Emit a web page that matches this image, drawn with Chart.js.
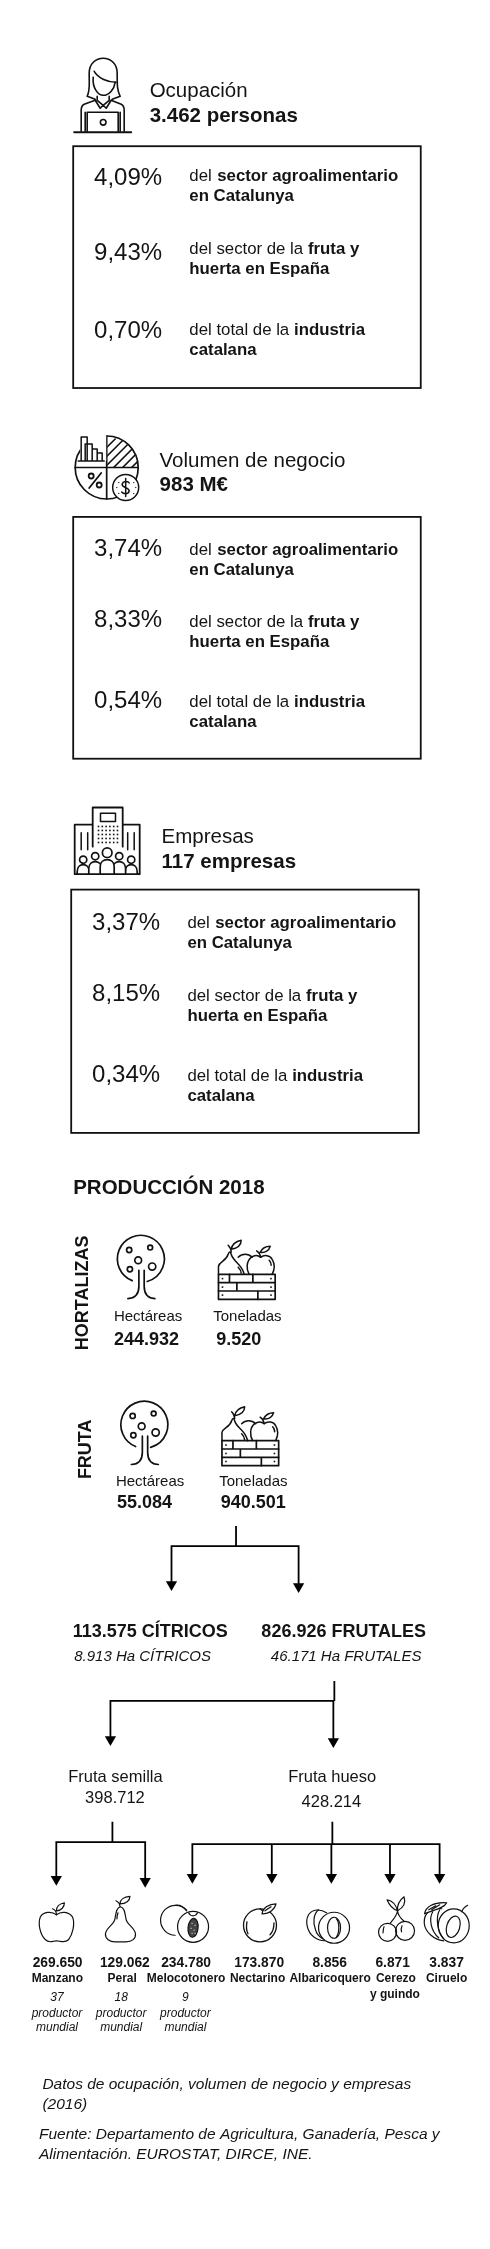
<!DOCTYPE html>
<html lang="es">
<head>
<meta charset="utf-8">
<title>Producción de fruta</title>
<style>
html,body{margin:0;padding:0;background:#fff}
canvas{display:block}
</style>
<script src="https://cdn.jsdelivr.net/npm/chart.js@4"></script>
</head>
<body>
<canvas id="c" width="490" height="2249"></canvas>
<script>
/* ---------- DATA ---------- */
const panelTitles = ['Ocupación', 'Volumen de negocio', 'Empresas'];
const panelTotals = ['3.462 personas', '983 M€', '117 empresas'];
const occupationShares = ['4,09%', '9,43%', '0,70%'];
const turnoverShares = ['3,74%', '8,33%', '0,54%'];
const companyShares = ['3,37%', '8,15%', '0,34%'];
const shareDescriptions = [
  [[['del ', false], ['sector agroalimentario', true]], [['en Catalunya', true]]],
  [[['del sector de la ', false], ['fruta y', true]], [['huerta en España', true]]],
  [[['del total de la ', false], ['industria', true]], [['catalana', true]]]
];
const productionTitle = 'PRODUCCIÓN 2018';
const productionGroups = ['HORTALIZAS', 'FRUTA'];
const productionUnits = ['Hectáreas', 'Toneladas'];
const vegetableValues = ['244.932', '9.520'];
const fruitValues = ['55.084', '940.501'];
const splitTotals = ['113.575 CÍTRICOS', '826.926 FRUTALES'];
const splitAreas = ['8.913 Ha CÍTRICOS', '46.171 Ha FRUTALES'];
const branchNames = ['Fruta semilla', 'Fruta hueso'];
const branchValues = ['398.712', '428.214'];
const speciesValues = ['269.650', '129.062', '234.780', '173.870', '8.856', '6.871', '3.837'];
const speciesNames = ['Manzano', 'Peral', 'Melocotonero', 'Nectarino', 'Albaricoquero', 'Cerezo', 'Ciruelo'];
const speciesRanks = ['37', '18', '9'];
const rankCaption = ['productor', 'mundial'];
const footnotes = [
  'Datos de ocupación, volumen de negocio y empresas', '(2016)',
  'Fuente: Departamento de Agricultura, Ganadería, Pesca y', 'Alimentación. EUROSTAT, DIRCE, INE.'
];

/* ---------- LAYOUT (frame of the two hidden axes) ---------- */
const FRAME_X = [4.84, 485.2], FRAME_Y = [6.17, 2244];
const INK = '#111', TEXT = '#141414';
const FAMILY = '"Liberation Sans", Arial, Helvetica, sans-serif';
const panelLayout = [
  {icon: 'person', ix: 73, iy: 58, tx: 149, ty: 97, vy: 122, box: [72, 146, 422, 388], sx: 93, dx: 189, sy: [185, 260, 338], dy: [181, 253.5, 334.5]},
  {icon: 'pie', ix: 73, iy: 435, tx: 159, ty: 467, vy: 491.5, box: [72, 517, 422, 759], sx: 93, dx: 189, sy: [556, 627.5, 708], dy: [554.7, 626.7, 707.7]},
  {icon: 'building', ix: 72, iy: 807, tx: 161, ty: 843, vy: 868, box: [70, 890, 420, 1133.5], sx: 91, dx: 187, sy: [930, 1001.5, 1082.5], dy: [928.7, 1001, 1082]}
];
const connectorPaths = [
  [[236, 1527], [236, 1547]],
  [[171, 1586], [171, 1547], [299, 1547], [299, 1588]],
  [[335, 1682], [335, 1702]],
  [[109.5, 1741], [109.5, 1702], [334, 1702], [334, 1743]],
  [[111.5, 1823], [111.5, 1843.3]],
  [[55, 1881], [55, 1843.3], [144.5, 1843.3], [144.5, 1883]],
  [[333, 1823], [333, 1845.3]],
  [[192, 1879], [192, 1845.3], [441, 1845.3], [441, 1879]],
  [[272, 1845.3], [272, 1879]],
  [[332, 1845.3], [332, 1879]],
  [[391, 1845.3], [391, 1879]]
];
const ARROW_R = 6.5;
const arrowTips = [[171, 1592], [299, 1594], [109.5, 1747], [334, 1749], [55, 1887], [144.5, 1889],
  [192, 1885], [272, 1885], [332, 1885], [391, 1885], [441, 1885]];
const speciesIcons = [['apple', 37, 1903], ['pear', 104, 1897], ['peach', 162, 1905], ['nectarine', 243, 1904],
  ['apricot', 307, 1909], ['cherry', 379, 1898], ['plum', 425, 1902]];
const speciesValueX = [56.3, 124, 185.7, 259.3, 330.3, 393.7, 448];
const speciesNameX = [56, 121.3, 185.7, 257.7, 330.7, 397, 448];
const rankX = [55.7, 120.3, 185];

/* ---------- ICONS (local px, origin at icon's top-left) ---------- */
function el(c, x, y, rx, ry, rot) { c.beginPath(); c.ellipse(x, y, rx, ry || rx, rot || 0, 0, Math.PI * 2); c.stroke(); }
function pth(c, d) { c.stroke(new Path2D(d)); }
const icons = {
  person(c) {
    c.lineWidth = 1.6;
    pth(c, 'M13 38C16 32 15 28 15 15C15 5 22 0 29 0C36 0 43 5 43 15C43 28 43 32 46 38L38 41M13 38L21 41');
    pth(c, 'M20 13C24 20 34 24 42 24');
    pth(c, 'M19 19C18 30 24 37 29 37C35 37 40 31 41 24');
    pth(c, 'M23 38V42L29 47L35 42V38M21 42L26 50L29 47L32 50L37 42');
    pth(c, 'M21 42L10 46C8 47 7 49 7 52V73M37 42L47 46C49 47 50 49 50 52V73');
    pth(c, 'M11 54V73M46 54V73');
    pth(c, 'M13 73V54H44V73');
    el(c, 29, 64, 2.8);
    c.lineWidth = 2; pth(c, 'M0 74H57');
  },
  pie(c) {
    c.lineWidth = 1.7;
    el(c, 32.5, 32.5, 31.5);
    pth(c, 'M1 32.5H64M32.5 1V64');
    c.save(); c.beginPath(); c.rect(33, 1, 31, 31); c.clip();
    const circ = new Path2D(); circ.arc(32.5, 32.5, 31, 0, Math.PI * 2); c.clip(circ);
    c.lineWidth = 1.6;
    for (const o of [8, 17, 26, 35, 44, 53]) pth(c, `M${33 + o - 30} 34L${33 + o} 4`);
    c.restore();
    c.fillStyle = '#fff'; c.fillRect(6, 0, 26, 26);
    c.lineWidth = 1.5;
    pth(c, 'M4 26H30M7 26V2H13V26M11 26V9H18V26M18 14H23V26M23 18H28V26');
    c.lineWidth = 1.8;
    el(c, 17, 41, 2.5); el(c, 25, 50, 2.5);
    pth(c, 'M27 38L15 53');
    c.lineWidth = 1.5;
    c.fillStyle = '#fff'; c.beginPath(); c.arc(51.5, 52.5, 13, 0, Math.PI * 2); c.fill(); c.stroke();
    pth(c, 'M55 48C54 46 49 46 48 49C47 53 55 52 55 56C54 60 49 59 47.5 57M51.5 43.5V61.5');
    c.fillStyle = INK;
    for (const [x, y] of [[42, 52], [61, 52], [44, 47], [59, 47], [44, 58], [59, 58]]) c.fillRect(x, y, 1.1, 1.1);
  },
  building(c) {
    c.lineWidth = 1.8;
    pth(c, 'M19.5 18H1.5V67.5H66.5V18H49.5M19.5 40V.8H49.5V40');
    c.lineWidth = 1.5;
    c.strokeRect(27.3, 6.5, 15, 8.2);
    pth(c, 'M8 26V43M14.5 26V43M54.5 26V43M61 26V43');
    c.fillStyle = INK;
    for (let r = 0; r < 5; r++) for (let k = 0; k < 6; k++) c.fillRect(24.5 + k * 3.8, 19 + r * 4, 1.6, 1.6);
    const person = (cx, hy, hr, w, top) => {
      c.fillStyle = '#fff';
      const p = new Path2D(`M${cx - w} 67.5V${top + 7}C${cx - w} ${top + 2} ${cx - w / 2} ${top} ${cx} ${top}C${cx + w / 2} ${top} ${cx + w} ${top + 2} ${cx + w} ${top + 7}V67.5`);
      c.fill(p); c.stroke(p);
      c.beginPath(); c.arc(cx, hy, hr, 0, Math.PI * 2); c.fill(); c.stroke();
    };
    c.lineWidth = 1.7;
    person(10, 53, 3.6, 6, 58); person(58, 53, 3.6, 6, 58);
    person(22, 49.5, 3.6, 6.4, 55); person(46, 49.5, 3.6, 6.4, 55);
    person(34, 46, 4.8, 7, 53);
    c.lineWidth = 1.8; pth(c, 'M3.5 67.5H65');
  },
  tree(c) {
    c.lineWidth = 1.7;
    c.beginPath(); c.arc(24, 23.5, 23.5, 1.95, 1.3); c.stroke();
    pth(c, 'M22 35V51C22 59 18 63 11 63.3M27.3 35V51C27.3 59 31 63 38 63.3');
    el(c, 12.3, 14.7, 2.6); el(c, 33.3, 12.3, 2.4); el(c, 21.3, 25, 3.4); el(c, 13, 34, 2.6); el(c, 35.3, 31.3, 3.6);
  },
  crate(c) {
    c.lineWidth = 1.7;
    c.strokeRect(1.3, 35, 56.7, 25);
    pth(c, 'M1.3 43.3H58M1.3 51.7H58M12.3 35V43.3M35.7 35V43.3M19.7 43.3V51.7M40.7 51.7V60');
    c.fillStyle = INK;
    for (const [x, y] of [[4.5, 38.5], [53, 38.5], [4.5, 47], [53, 47], [4.5, 55], [53, 55]]) c.fillRect(x, y, 1.6, 1.6);
    c.lineWidth = 1.5;
    pth(c, 'M1.3 35V27C2 22 9 22 11 15C12 12 13 12 14 15C16 22 23 24 26 32L27 35');
    pth(c, 'M21 28C23 30 24 32 24 34M14 13C14 10 13 8 11 6M14 10C15 5 19 2 24 1C24 6 20 9 14 10');
    pth(c, 'M21 18C25 14 31 14 35 18');
    pth(c, 'M32 35C29 30 29 22 34 18C37 16 41 16 43.5 18C47 15 53 16 55 20C58 25 57 31 55 35');
    pth(c, 'M43.5 18C43 15 42 13 39.5 11.5M43 13C45 9 49 7 53 7C52 11 48 14 43 13');
    pth(c, 'M52 21C53 22 54 23 54 26');
  },
  apple(c) {
    c.lineWidth = 1.2;
    pth(c, 'M18 13C13 9 5 10 2 15C-1 22 2 33 7 38C10 41 13 40 15 39.5C17 39 19 39 21 39.5C24 40 27 41 30 38C34 33 37 22 34 15C30 10 23 9 18 13Z');
    pth(c, 'M18 13C18 10 17 8 14 7M18 9C18 5 21 2 26 1C26 5 23 9 18 9');
  },
  pear(c) {
    c.lineWidth = 1.2;
    pth(c, 'M15.5 11C11 12 11 18 10 23C9 29 1 32 .5 38C0 43 5 46 10 46H21C27 46 31 43 30.5 38C30 32 22 29 21 23C20 18 20 12 15.5 11Z');
    pth(c, 'M15 11C15 8 13 6 11 5M15 8C15 4 19 1 25 .5C25 5 21 8 15 8M13 17C12 20 12 22 12 23');
  },
  peach(c) {
    c.lineWidth = 1.2;
    c.beginPath(); c.arc(13, 16.5, 15, 1.6, 5.55); c.stroke();
    pth(c, 'M13 1.5C17 1 21 3 24 7');
    el(c, 30.5, 23, 15.5);
    pth(c, 'M26 9C28 13 33 13 35 9');
    c.fillStyle = '#444'; c.beginPath(); c.ellipse(30.5, 24, 5, 9.5, .1, 0, Math.PI * 2); c.fill(); c.stroke();
    c.fillStyle = '#fff';
    for (const [x, y] of [[29, 19], [32, 21], [28, 24], [31, 26], [29, 29], [32, 29]]) c.fillRect(x, y, 1, 1);
  },
  nectarine(c) {
    c.lineWidth = 1.3;
    el(c, 17, 22.5, 16.5);
    pth(c, 'M17 6C20 9 23 9 26 7M4 19C3 24 4 29 5 31M31 20C31 25 29 30 27 32');
    c.fillStyle = '#fff';
    const p = new Path2D('M19 11C20 5 26 1 33 1C32 6 27 11 19 11Z'); c.fill(p); c.stroke(p);
    pth(c, 'M22 8L28 4');
  },
  apricot(c) {
    c.lineWidth = 1.2;
    pth(c, 'M20 5C14 1 6 1 2 7C-2 14 1 24 7 29C11 32 15 33 18 33');
    pth(c, 'M12 2C7 6 6 15 9 22C10 26 13 29 16 31');
    el(c, 27.5, 20, 15.5);
    el(c, 27.5, 20, 6.5, 10.5);
    pth(c, 'M30 11C33 15 33 25 30 29');
  },
  cherry(c) {
    c.lineWidth = 1.2;
    el(c, 9.5, 35.5, 9); el(c, 27, 34, 9.5);
    pth(c, 'M6 30C5 32 5 34 5 36M24 29C23 31 23 33 23.5 35');
    pth(c, 'M19.5 14C19 19 15 23 12 26.5M19.5 14C20 19 23 22 26 24.5');
    pth(c, 'M19.5 14C14 12 11 8 9 3C14 4 18 8 19.5 14M19.5 14C19 8 22 3 26 0C28 6 25 11 19.5 14');
  },
  plum(c) {
    c.lineWidth = 1.2;
    pth(c, 'M18 8C8 6 0 12 .5 22C1 31 10 39 20 40');
    pth(c, 'M9 11C5 18 7 30 15 37M16 9C12 16 13 30 20 38');
    el(c, 30, 25, 15.5, 17);
    el(c, 29.5, 26, 6.5, 11, .3);
    pth(c, 'M38 11C39 8 41 6 44 4.5');
    c.fillStyle = '#fff';
    const p = new Path2D('M.8 13C2 6 10 1 23 2C20 8 10 9 .8 13Z'); c.fill(p); c.stroke(p);
    pth(c, 'M5 9L12 5M8 9L16 4');
  }
};

/* ---------- PLUGIN: texts, boxes and icons positioned through the scales ---------- */
const infographic = {
  id: 'infographic',
  afterDatasetsDraw(chart) {
    const c = chart.ctx, X = chart.scales.x, Y = chart.scales.y;
    const px = v => X.getPixelForValue(v), py = v => Y.getPixelForValue(v);
    const put = (s, x, y, font, align) => {
      c.font = font + ' ' + FAMILY; c.textAlign = align || 'left'; c.textBaseline = 'alphabetic';
      c.fillStyle = TEXT; c.fillText(s, px(x), py(y));
    };
    const icon = (name, x, y) => {
      c.save(); c.translate(px(x), py(y)); c.strokeStyle = INK; c.lineCap = 'round'; c.lineJoin = 'round';
      icons[name](c); c.restore();
    };
    const shareSets = [occupationShares, turnoverShares, companyShares];
    panelLayout.forEach((p, i) => {
      icon(p.icon, p.ix, p.iy);
      put(panelTitles[i], p.tx, p.ty, '20.5px');
      put(panelTotals[i], p.tx, p.vy, 'bold 20.5px');
      c.strokeStyle = INK; c.lineWidth = 1.8;
      c.strokeRect(px(p.box[0]), py(p.box[1]), px(p.box[2]) - px(p.box[0]), py(p.box[3]) - py(p.box[1]));
      shareSets[i].forEach((s, r) => {
        put(s, p.sx, p.sy[r], '24px');
        shareDescriptions[r].forEach((runs, l) => {
          let x = p.dx;
          runs.forEach(([t, bold]) => {
            const f = (bold ? 'bold ' : '') + '16.8px';
            put(t, x, p.dy[r] + l * 20, f);
            x += c.measureText(t).width + 1;
          });
        });
      });
    });
    put(productionTitle, 72, 1194.5, 'bold 20.5px');
    [[86.5, 1351, 0], [89.5, 1480, 1]].forEach(([x, y, g]) => {
      c.save(); c.translate(px(x), py(y)); c.rotate(-Math.PI / 2);
      c.font = 'bold 18px ' + FAMILY; c.textAlign = 'left'; c.fillStyle = TEXT;
      c.fillText(productionGroups[g], 0, 0); c.restore();
    });
    icon('tree', 116, 1236); icon('crate', 217, 1240);
    icon('tree', 119.5, 1402); icon('crate', 220.5, 1406.5);
    put(productionUnits[0], 113, 1321.7, '15px'); put(productionUnits[1], 213, 1321.7, '15px');
    put(vegetableValues[0], 113, 1345.7, 'bold 18px'); put(vegetableValues[1], 216, 1345.7, 'bold 18px');
    put(productionUnits[0], 115, 1486.7, '15px'); put(productionUnits[1], 219, 1486.7, '15px');
    put(fruitValues[0], 116, 1509, 'bold 18px'); put(fruitValues[1], 220.5, 1509, 'bold 18px');
    put(splitTotals[0], 71.5, 1638, 'bold 18px'); put(splitTotals[1], 261.5, 1638, 'bold 18px');
    put(splitAreas[0], 73, 1662.3, 'italic 15px'); put(splitAreas[1], 271, 1662.3, 'italic 15px');
    put(branchNames[0], 67, 1783, '16.5px'); put(branchValues[0], 84, 1804, '16.5px');
    put(branchNames[1], 288.5, 1783, '16.5px'); put(branchValues[1], 302, 1808, '16.5px');
    speciesIcons.forEach(([n, x, y]) => icon(n, x, y));
    speciesValues.forEach((v, i) => put(v, speciesValueX[i], 1968.7, 'bold 13.8px', 'center'));
    speciesNames.forEach((v, i) => put(v, speciesNameX[i], 1983.7, 'bold 12px', 'center'));
    put('y guindo', 396, 1999, 'bold 12px', 'center');
    speciesRanks.forEach((r, i) => {
      put(r, rankX[i], 2002.7, 'italic 12px', 'center');
      put(rankCaption[0], rankX[i], 2018, 'italic 12px', 'center');
      put(rankCaption[1], rankX[i], 2032, 'italic 12px', 'center');
    });
    put(footnotes[0], 41, 2090.7, 'italic 15.5px'); put(footnotes[1], 41, 2110, 'italic 15.5px');
    put(footnotes[2], 37.5, 2140, 'italic 15.5px'); put(footnotes[3], 37.5, 2160, 'italic 15.5px');
  }
};

/* ---------- CHART ---------- */
const connectorSets = connectorPaths.map(path => ({
  data: path.map(([x, y]) => ({x, y})), showLine: true, borderColor: '#000', borderWidth: 1.8,
  pointRadius: 0, tension: 0, fill: false
}));
const arrowSet = {
  data: arrowTips.map(([x, y]) => ({x, y: y - ARROW_R})), showLine: false, pointStyle: 'triangle',
  pointRotation: 180, pointRadius: ARROW_R, pointBackgroundColor: '#000', pointBorderColor: '#000', pointBorderWidth: 0
};
new Chart(document.getElementById('c'), {
  type: 'scatter',
  data: {datasets: [...connectorSets, arrowSet]},
  plugins: [infographic],
  options: {
    responsive: false, animation: false, devicePixelRatio: 1,
    layout: {padding: 0},
    plugins: {legend: {display: false}, tooltip: {enabled: false}, title: {display: false}},
    scales: {
      x: {type: 'linear', min: FRAME_X[0], max: FRAME_X[1], display: false},
      y: {type: 'linear', min: FRAME_Y[0], max: FRAME_Y[1], reverse: true, display: false}
    }
  }
});
</script>
</body>
</html>
